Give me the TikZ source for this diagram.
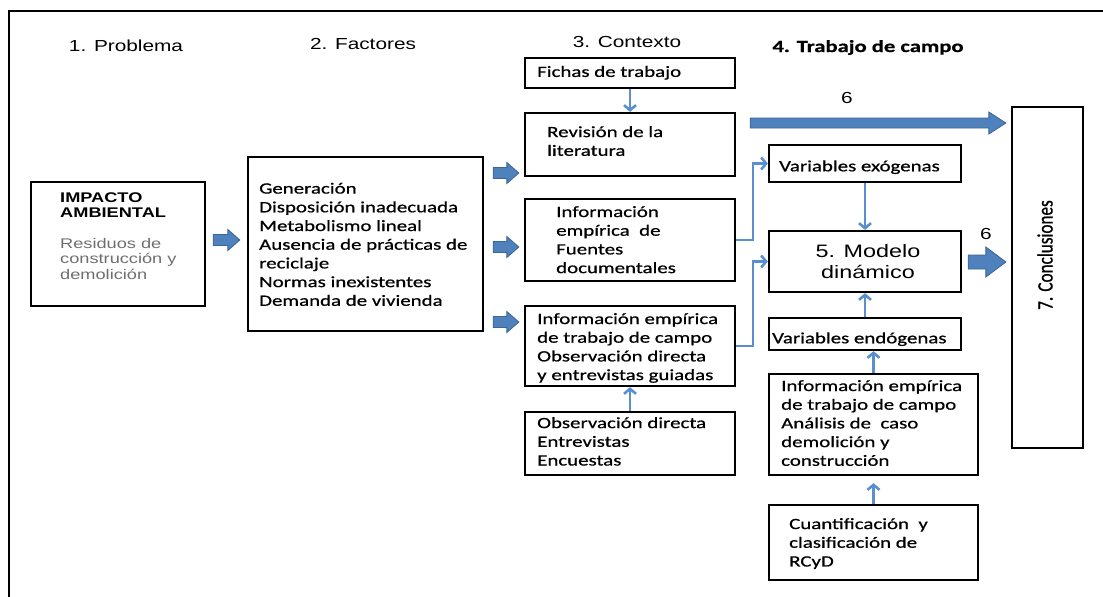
\documentclass[tikz,border=0pt]{standalone}
\usepackage{fontspec}
\usetikzlibrary{calc,arrows.meta}

% Fonts: Calibri- and Arial-metric families, widened
\newfontfamily\calfont[FakeStretch=1.33,FakeBold=0.7]{Carlito}
\newfontfamily\arfont[FakeStretch=1.3]{Liberation Sans}
\newfontfamily\rotfont[FakeStretch=0.78,FakeBold=0.7]{Carlito}

\definecolor{arrowfill}{HTML}{4F81BD}
\definecolor{arrowedge}{HTML}{3A6597}
\definecolor{linkblue}{HTML}{5A8FCF}
\definecolor{softgray}{HTML}{6E6E6E}

\tikzset{
  box/.style={draw=black, line width=2.3pt, rectangle, inner sep=0pt},
  body/.style={anchor=north west, inner sep=0pt, align=left,
    font=\calfont\fontsize{15.7}{18.7}\selectfont, execute at begin node=\strut},
  heading/.style={anchor=base, inner sep=0pt, font=\arfont\fontsize{16}{19}\selectfont},
  link/.style={draw=linkblue, line width=2.6pt, -{Straight Barb[length=5pt,width=12pt]}},
  blockarrow/.style={fill=arrowfill, draw=arrowedge, line width=0.8pt, line join=miter},
}

% Horizontal block arrow: start, end, shaft width, head length, head width
\newcommand\blockarrow[5]{%
  \path[blockarrow] let \p1=#1, \p2=#2 in
    (\x1,{\y1+#3/2}) -- ({\x2-#4},{\y1+#3/2}) -- ({\x2-#4},{\y1+#5/2}) -- (\x2,\y1)
    -- ({\x2-#4},{\y1-#5/2}) -- ({\x2-#4},{\y1-#3/2}) -- (\x1,{\y1-#3/2}) -- cycle;}

\begin{document}
\begin{tikzpicture}[x=1pt, y=-1pt]
\useasboundingbox (0,0) rectangle (1103,597);

% outer frame
\draw[line width=2.8pt] (9,597) -- (9,11) -- (1103,11);

% column headings
\node[heading] (h1) at (126,51) {1. Problema};
\node[heading] (h2) at (363,49) {2. Factores};
\node[heading] (h3) at (627,47) {3. Contexto};
\node[heading, font=\calfont\bfseries\fontsize{17}{20}\selectfont] (h4) at (868,52) {4. Trabajo de campo};

% boxes
\node[box, minimum width=174, minimum height=124] (imp) at (118,244) {};
\node[box, minimum width=235, minimum height=174] (fac) at (365.5,244) {};
\node[box, minimum width=210, minimum height=30] (fichas) at (630,73) {};
\node[box, minimum width=210, minimum height=63] (rev) at (630,144.5) {};
\node[box, minimum width=210, minimum height=82] (infof) at (630,240) {};
\node[box, minimum width=210, minimum height=80] (infot) at (630,346) {};
\node[box, minimum width=210, minimum height=63] (obs) at (630,443.5) {};
\node[box, minimum width=192, minimum height=37] (varex) at (865,163.5) {};
\node[box, minimum width=192, minimum height=61] (modelo) at (865,261.5) {};
\node[box, minimum width=192, minimum height=32] (varend) at (865,334) {};
\node[box, minimum width=209, minimum height=101] (infoa) at (873.5,424.5) {};
\node[box, minimum width=209, minimum height=75] (cuant) at (873.5,542.5) {};
\node[box, minimum width=71, minimum height=341] (concl) at (1047.5,277.5) {};

% box texts
\node[anchor=north west, inner sep=0pt, align=left,
  font=\arfont\bfseries\fontsize{14}{15}\selectfont, execute at begin node=\strut]
  (impT) at (60,192.5) {IMPACTO\\AMBIENTAL};
\node[anchor=north west, inner sep=0pt, align=left, text=softgray,
  font=\arfont\fontsize{14}{15.5}\selectfont, execute at begin node=\strut]
  (impR) at (60,238) {Residuos de\\construcción y\\demolición};
\node[body] (facT) at (259,182.6) {Generación\\Disposición inadecuada\\Metabolismo lineal\\Ausencia de prácticas de\\reciclaje\\Normas inexistentes\\Demanda de vivienda};
\node[body] (fichasT) at (537,63.6) {Fichas de trabajo};
\node[body] (revT) at (547,126) {Revisión de la\\literatura};
\node[body] (infofT) at (556,206) {Información\\empírica\ \ de\\Fuentes\\documentales};
\node[body] (infotT) at (537,313) {Información empírica\\de trabajo de campo\\Observación directa\\y entrevistas guiadas};
\node[body] (obsT) at (537,417) {Observación directa\\Entrevistas\\Encuestas};
\node[body] (varexT) at (779,158) {Variables exógenas};
\node[anchor=north, inner sep=0pt, align=center,
  font=\arfont\fontsize{18}{21}\selectfont, execute at begin node=\strut]
  (modeloT) at (868,244.5) {5. Modelo\\dinámico};
\node[body] (varendT) at (772,330) {Variables endógenas};
\node[body] (infoaT) at (781,380) {Información empírica\\de trabajo de campo\\Análisis de\ \ caso\\demolición y\\construcción};
\node[body] (cuantT) at (789,518) {Cuantificación\ \ y\\clasificación de\\RCyD};
\node[rotate=90, inner sep=0pt, font=\rotfont\fontsize{22}{24}\selectfont] (conclT) at (1045,255) {7. Conclusiones};

% labels on the arrows into the conclusions
\node[heading] (six1) at (847,103) {6};
\node[heading] (six2) at (986,239) {6};

% block arrows
\blockarrow{($(imp.east)+(7,-4)$)}{([xshift=-7pt]fac.west)}{11pt}{12pt}{21pt}
\blockarrow{($(fac.east)+(9,-71)$)}{([xshift=-5pt]rev.west)}{11pt}{12pt}{21pt}
\blockarrow{($(fac.east)+(9,3)$)}{([xshift=-5pt]infof.west)}{11pt}{12pt}{21pt}
\blockarrow{($(fac.east)+(9,78)$)}{([xshift=-5pt]infot.west)}{11pt}{12pt}{21pt}
\blockarrow{($(rev.east)+(14,-21.5)$)}{([xshift=-5pt]concl.west)}{10pt}{17pt}{22pt}
\blockarrow{($(modelo.east)+(6,0.5)$)}{([xshift=-5pt]concl.west)}{14pt}{20pt}{30pt}

% thin connectors
\draw[link] (fichas.south) -- (rev.north);
\draw[link] (obs.north) -- (infot.south);
\draw[link] (infof.east) -- ++(17,0) |- (varex.west);
\draw[link] (infot.east) -- ++(17,0) |- (modelo.west);
\draw[link] (varex.south) -- (modelo.north);
\draw[link] (varend.north) -- (modelo.south);
\draw[link] (infoa.north) -- (infoa.north |- varend.south);
\draw[link, shorten >=7pt] (cuant.north) -- (cuant.north |- infoa.south);
\end{tikzpicture}
\end{document}
